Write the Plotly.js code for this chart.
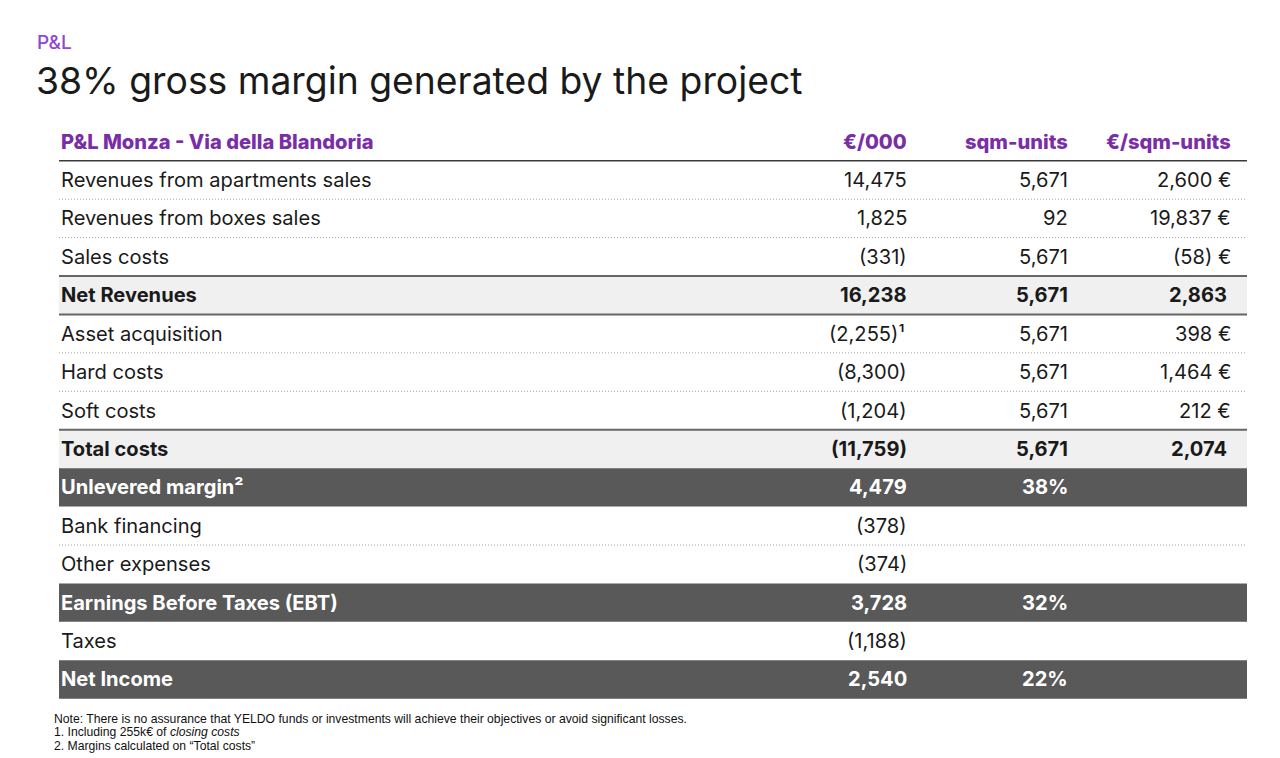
<!DOCTYPE html>
<html>
<head>
<meta charset="utf-8">
<script src="https://cdn.plot.ly/plotly-3.0.1.min.js"></script>
<style>
html,body{margin:0;padding:0;background:#fff;}
#chart{width:1280px;height:758px;}
</style>
</head>
<body>
<div id="chart"></div>
<script>
// ---------- DATA ----------
const kicker = 'P&L';
const pageTitle = '38% gross margin generated by the project';
const headers = ['P&L Monza - Via della Blandoria', '€/000', 'sqm-units', '€/sqm-units'];
const rowLabels = ['Revenues from apartments sales', 'Revenues from boxes sales', 'Sales costs', 'Net Revenues',
  'Asset acquisition', 'Hard costs', 'Soft costs', 'Total costs', 'Unlevered margin²',
  'Bank financing', 'Other expenses', 'Earnings Before Taxes (EBT)', 'Taxes', 'Net Income'];
const rowStyle = ['normal', 'normal', 'normal', 'subtotal', 'normal', 'normal', 'normal', 'subtotal', 'highlight',
  'normal', 'normal', 'highlight', 'normal', 'highlight'];
const eurThousands = [14475, 1825, -331, 16238, -2255, -8300, -1204, -11759, 4479, -378, -374, 3728, -1188, 2540];
const eurNotes = ['', '', '', '', '¹', '', '', '', '', '', '', '', '', ''];
const sqmUnits = [5671, 92, 5671, 5671, 5671, 5671, 5671, 5671, null, null, null, null, null, null];
const marginPct = [null, null, null, null, null, null, null, null, 38, null, null, 32, null, 22];
const eurPerSqm = [2600, 19837, -58, 2863, 398, 1464, 212, 2074, null, null, null, null, null, null];
const footnotes = [
  'Note: There is no assurance that YELDO funds or investments will achieve their objectives or avoid significant losses.',
  '1. Including 255k€ of <i>closing costs</i>',
  '2. Margins calculated on “Total costs”'
];

// ---------- STYLE ----------
const FONT = 'Inter, "Noto Sans", Arial, sans-serif';
const PURPLE = '#7a2ea6';
const KICKER_PURPLE = '#9147d6';
const TEXT = '#1a1a1a';
const BAND_DARK = '#595959';
const BAND_LIGHT = '#f0f0f0';
const PITCH = 38.42;      // px per row
const ROW0 = 180;          // px centre of first data row
const H = 758, W = 1280;
const X_LEFT = 59, X_RIGHT = 1247, X_LABEL = 59;
const COL_X = [909, 1070, 1233];
const FS = 20.1;

function fmt(n) {
  const s = Math.abs(n).toLocaleString('en-US');
  return n < 0 ? '(' + s + ')' : s;
}

const annotations = [];
const shapes = [];

// kicker + title (paper)
annotations.push({xref: 'paper', yref: 'paper', x: 35 / W, y: 1 - 42 / H, xanchor: 'left', yanchor: 'middle',
  text: kicker, showarrow: false, font: {family: FONT, size: 19, weight: 500, color: KICKER_PURPLE}});
annotations.push({xref: 'paper', yref: 'paper', x: 34 / W, y: 1 - 80 / H, xanchor: 'left', yanchor: 'middle',
  text: pageTitle, showarrow: false, font: {family: FONT, size: 37.3, color: TEXT}});

// header row at y = -1
const hdrX = [X_LABEL, COL_X[0], COL_X[1], COL_X[2]];
headers.forEach((h, j) => {
  annotations.push({xref: 'x', yref: 'y', x: hdrX[j], y: -1, xanchor: j === 0 ? 'left' : 'right', yanchor: 'middle',
    text: h, showarrow: false, font: {family: FONT, size: FS, weight: 800, color: PURPLE}});
});
shapes.push({type: 'line', xref: 'x', yref: 'y', x0: X_LEFT, x1: X_RIGHT, y0: -0.5, y1: -0.5,
  line: {color: '#3a3a3a', width: 1.5}});

// rows
rowLabels.forEach((lab, i) => {
  const st = rowStyle[i];
  const bold = st !== 'normal';
  const col = st === 'highlight' ? '#ffffff' : TEXT;
  if (st === 'highlight') {
    shapes.push({type: 'rect', xref: 'x', yref: 'y', x0: X_LEFT, x1: X_RIGHT, y0: i - 0.5, y1: i + 0.5,
      fillcolor: BAND_DARK, line: {width: 0}, layer: 'below'});
  } else if (st === 'subtotal') {
    shapes.push({type: 'rect', xref: 'x', yref: 'y', x0: X_LEFT, x1: X_RIGHT, y0: i - 0.5, y1: i + 0.5,
      fillcolor: BAND_LIGHT, line: {width: 0}, layer: 'below'});
  }
  const f = {family: FONT, size: FS, weight: bold ? 750 : 400, color: col};
  annotations.push({xref: 'x', yref: 'y', x: X_LABEL, y: i, xanchor: 'left', yanchor: 'middle',
    text: lab, showarrow: false, font: f});
  if (eurThousands[i] !== null) {
    const t = fmt(eurThousands[i]) + eurNotes[i];
    annotations.push({xref: 'x', yref: 'y', x: COL_X[0] - (eurNotes[i] ? 2 : 0), y: i, xanchor: 'right', yanchor: 'middle',
      text: t, showarrow: false, font: f});
  }
  if (sqmUnits[i] !== null) {
    annotations.push({xref: 'x', yref: 'y', x: COL_X[1], y: i, xanchor: 'right', yanchor: 'middle',
      text: fmt(sqmUnits[i]), showarrow: false, font: f});
  }
  if (marginPct[i] !== null) {
    annotations.push({xref: 'x', yref: 'y', x: COL_X[1], y: i, xanchor: 'right', yanchor: 'middle',
      text: marginPct[i] + '%', showarrow: false, font: f});
  }
  if (eurPerSqm[i] !== null) {
    const t = fmt(eurPerSqm[i]) + (st === 'normal' ? ' €' : '');
    annotations.push({xref: 'x', yref: 'y', x: COL_X[2] - (st === 'normal' ? 0 : 4), y: i, xanchor: 'right', yanchor: 'middle',
      text: t, showarrow: false, font: f});
  }
  // separator below row i
  if (i < rowLabels.length - 1) {
    const a = st, b = rowStyle[i + 1];
    if (a === 'highlight' || b === 'highlight') return;
    if (a === 'subtotal' || b === 'subtotal') {
      shapes.push({type: 'line', xref: 'x', yref: 'y', x0: X_LEFT, x1: X_RIGHT, y0: i + 0.5, y1: i + 0.5,
        line: {color: '#666666', width: 2}});
    } else {
      shapes.push({type: 'line', xref: 'x', yref: 'y', x0: X_LEFT, x1: X_RIGHT, y0: i + 0.5, y1: i + 0.5,
        line: {color: '#a0a0a0', width: 1, dash: '1px,2px'}});
    }
  }
});

// footnotes
const fnY = [719, 732, 746];
footnotes.forEach((t, k) => {
  annotations.push({xref: 'paper', yref: 'paper', x: 52 / W, y: 1 - fnY[k] / H, xanchor: 'left', yanchor: 'middle',
    text: t, showarrow: false, font: {family: '"Liberation Sans", Arial, sans-serif', size: 12.2, color: '#111111'}});
});

const yTop = (0 - ROW0) / PITCH;
const yBot = (H - ROW0) / PITCH;

const layout = {
  width: W, height: H,
  margin: {l: 0, r: 0, t: 0, b: 0, pad: 0},
  paper_bgcolor: '#ffffff', plot_bgcolor: '#ffffff',
  showlegend: false,
  xaxis: {range: [0, W], visible: false, fixedrange: true},
  yaxis: {range: [yBot, yTop], visible: false, fixedrange: true},
  annotations: annotations,
  shapes: shapes
};

Plotly.newPlot('chart', [{x: [], y: [], type: 'scatter', mode: 'markers', hoverinfo: 'skip'}], layout,
  {displayModeBar: false, staticPlot: true});
</script>
</body>
</html>
